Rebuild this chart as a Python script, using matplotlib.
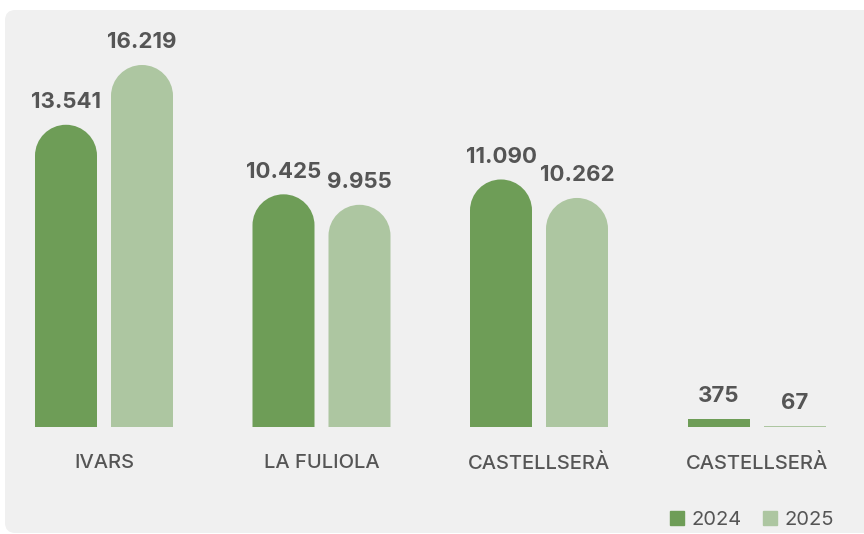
import numpy as np
import matplotlib
matplotlib.use("Agg")
import matplotlib.pyplot as plt
from matplotlib.patches import FancyBboxPatch, PathPatch, Patch
from matplotlib.path import Path
from matplotlib.transforms import IdentityTransform

plt.rcParams['font.family'] = ['Inter', 'DejaVu Sans']

categories = ["IVARS", "LA FULIOLA", "CASTELLSERÀ", "CASTELLSERÀ"]
series_names = ["2024", "2025"]
values_2024 = [13541, 10425, 11090, 375]
values_2025 = [16219, 9955, 10262, 67]
value_labels_2024 = ["13.541", "10.425", "11.090", "375"]
value_labels_2025 = ["16.219", "9.955", "10.262", "67"]

c2024 = "#6e9d57"
c2025 = "#adc6a1"
txt = "#555555"
bg = "#f0f0f0"

W, H, DPI = 864, 534, 100
fig = plt.figure(figsize=(W / DPI, H / DPI), dpi=DPI)
fig.patch.set_facecolor("white")

# grey rounded panel behind everything
panel = FancyBboxPatch((5 / W, 1 / H), 900 / W, 523 / H,
                       boxstyle="round,pad=0,rounding_size=0.012",
                       transform=fig.transFigure, facecolor=bg, edgecolor="none",
                       mutation_aspect=W / H, zorder=-5)
fig.patches.append(panel)

# axes placed in pixels: baseline at 427 px from top
gap = 217.5
left_px, right_px = 10, 850
bottom_px, top_px = H - 427, H - 50
ax = fig.add_axes([left_px / W, bottom_px / H, (right_px - left_px) / W, (top_px - bottom_px) / H])
ax.set_facecolor("none")
x = np.arange(len(categories))
ax.set_xlim((left_px - 104) / gap, (right_px - 104) / gap)
ax.set_ylim(0, (top_px - bottom_px) / (362 / 16219))
for s in ax.spines.values():
    s.set_visible(False)
ax.set_yticks([])
ax.set_xticks(x)
ax.set_xticklabels(categories, fontsize=14.5, color=txt, fontweight="medium")
ax.tick_params(axis="x", length=0, pad=19.5)

bw = 62 / gap
off = 38 / gap
bars1 = ax.bar(x - off, values_2024, bw, color=c2024, label="2024")
bars2 = ax.bar(x + off, values_2025, bw, color=c2025, label="2025")

fig.canvas.draw()


def rounded(bar, color):
    (x0, y0), (x1, y1) = ax.transData.transform(
        [(bar.get_x(), bar.get_y()), (bar.get_x() + bar.get_width(), bar.get_y() + bar.get_height())])
    w = x1 - x0
    h = y1 - y0
    r = w / 2
    if h > r:
        k = 0.5523 * r
        verts = [(x0, y0), (x0, y1 - r),
                 (x0, y1 - r + k), (x0 + r - k, y1), (x0 + r, y1),
                 (x1 - r, y1),
                 (x1 - r + k, y1), (x1, y1 - r + k), (x1, y1 - r),
                 (x1, y0), (x0, y0)]
        codes = [Path.MOVETO, Path.LINETO,
                 Path.CURVE4, Path.CURVE4, Path.CURVE4,
                 Path.LINETO,
                 Path.CURVE4, Path.CURVE4, Path.CURVE4,
                 Path.LINETO, Path.CLOSEPOLY]
    else:
        h = max(h, 1.5)
        y1 = y0 + h
        verts = [(x0, y0), (x0, y1), (x1, y1), (x1, y0), (x0, y0)]
        codes = [Path.MOVETO, Path.LINETO, Path.LINETO, Path.LINETO, Path.CLOSEPOLY]
    p = PathPatch(Path(verts, codes), facecolor=color, edgecolor="none",
                  transform=IdentityTransform(), zorder=2)
    fig.patches.append(p)
    bar.set_visible(False)


for b in bars1:
    rounded(b, c2024)
for b in bars2:
    rounded(b, c2025)

for bars, labels in ((bars1, value_labels_2024), (bars2, value_labels_2025)):
    for b, lab in zip(bars, labels):
        ax.annotate(lab, (b.get_x() + b.get_width() / 2, b.get_height()),
                    xytext=(0, 12), textcoords="offset points", ha="center", va="baseline",
                    fontsize=16, fontweight="bold", color=txt)

handles = [Patch(color=c2024, label="2024"), Patch(color=c2025, label="2025")]
fig.legend(handles=handles, loc="center right", bbox_to_anchor=(834 / W, 1 - 520 / H),
           ncol=2, frameon=False, fontsize=14.5, labelcolor=txt,
           handlelength=0.7, handleheight=0.7, handletextpad=0.35, columnspacing=1.1,
           borderpad=0, borderaxespad=0)

fig.savefig("out.png", dpi=DPI, facecolor="white")
